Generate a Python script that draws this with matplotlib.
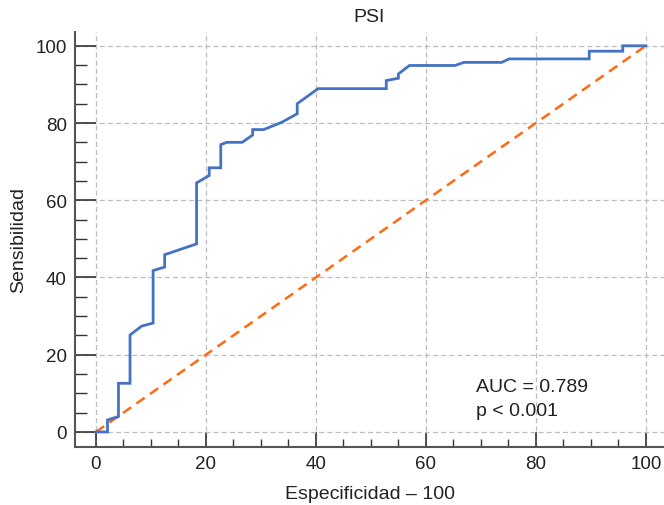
import matplotlib
matplotlib.use("Agg")
import matplotlib.pyplot as plt
from matplotlib.ticker import MultipleLocator

# ROC curve points (x = 100 - especificidad, y = sensibilidad)
roc_x = [0, 2.1, 2.1, 4.1, 4.1, 6.2, 6.2, 8.3, 10.4, 10.4, 12.5, 12.5, 18.3, 18.3,
         20.6, 20.6, 22.7, 22.7, 23.8, 26.6, 28.5, 28.5, 30.5, 33.8, 36.6, 36.6,
         40.4, 52.8, 52.8, 55.0, 55.0, 57.0, 65.3, 66.9, 73.8, 75.1, 89.7, 89.7,
         95.8, 95.8, 100]
roc_y = [0, 0, 3.1, 4.0, 12.6, 12.6, 25.1, 27.4, 28.2, 41.8, 42.7, 45.9, 48.7, 64.5,
         66.4, 68.4, 68.4, 74.4, 75.0, 75.0, 76.9, 78.3, 78.3, 80.2, 82.4, 85.0,
         88.9, 88.9, 91.0, 91.6, 92.7, 94.9, 94.9, 95.7, 95.7, 96.6, 96.6, 98.6,
         98.6, 100, 100]
ref_x = [0, 100]
ref_y = [0, 100]
auc_text = "AUC = 0.789"
p_text = "p < 0.001"

plt.rcParams['font.family'] = ['Liberation Sans', 'DejaVu Sans']

fig = plt.figure(figsize=(6.64, 5.06), dpi=100)
ax = fig.add_axes([0.113, 0.1146, 0.887, 0.8204])

ax.plot(ref_x, ref_y, color='#FF6A13', lw=1.8, linestyle=(0, (4, 2.6)), zorder=3)
ax.plot(roc_x, roc_y, color='#4472C4', lw=2.0, zorder=4, solid_joinstyle='miter')

ax.set_xlim(-3.8, 103.3)
ax.set_ylim(-3.9, 103.6)
ax.xaxis.set_major_locator(MultipleLocator(20))
ax.xaxis.set_minor_locator(MultipleLocator(5))
ax.yaxis.set_major_locator(MultipleLocator(20))
ax.yaxis.set_minor_locator(MultipleLocator(5))

ax.grid(True, which='major', color='#bdbdbd', linestyle=(0, (4, 2.5)), lw=0.9, zorder=0)

for s in ['top', 'right']:
    ax.spines[s].set_visible(False)
for s in ['left', 'bottom']:
    ax.spines[s].set_color('#555555')
    ax.spines[s].set_linewidth(1.5)

ax.tick_params(axis='y', which='major', direction='in', length=15, width=1.2,
               color='#333333', labelsize=13.5, labelcolor='#222222', pad=6)
ax.tick_params(axis='y', which='minor', direction='in', length=8.5, width=1.0,
               color='#333333')
ax.tick_params(axis='x', which='major', direction='in', length=11, width=1.2,
               color='#333333', labelsize=13.5, labelcolor='#222222', pad=6)
ax.tick_params(axis='x', which='minor', direction='in', length=6, width=1.0,
               color='#333333')

ax.set_title("PSI", fontsize=14, color='#222222', pad=8)
ax.set_xlabel("Especificidad \u2013 100", fontsize=14, color='#222222', labelpad=9)
ax.set_ylabel("Sensibilidad", fontsize=14, color='#222222', labelpad=6)

ax.text(69.1, 10.7, auc_text, fontsize=14, color='#222222', va='baseline')
ax.text(69.1, 4.4, p_text, fontsize=14, color='#222222', va='baseline')

fig.savefig("out.png", dpi=100)
